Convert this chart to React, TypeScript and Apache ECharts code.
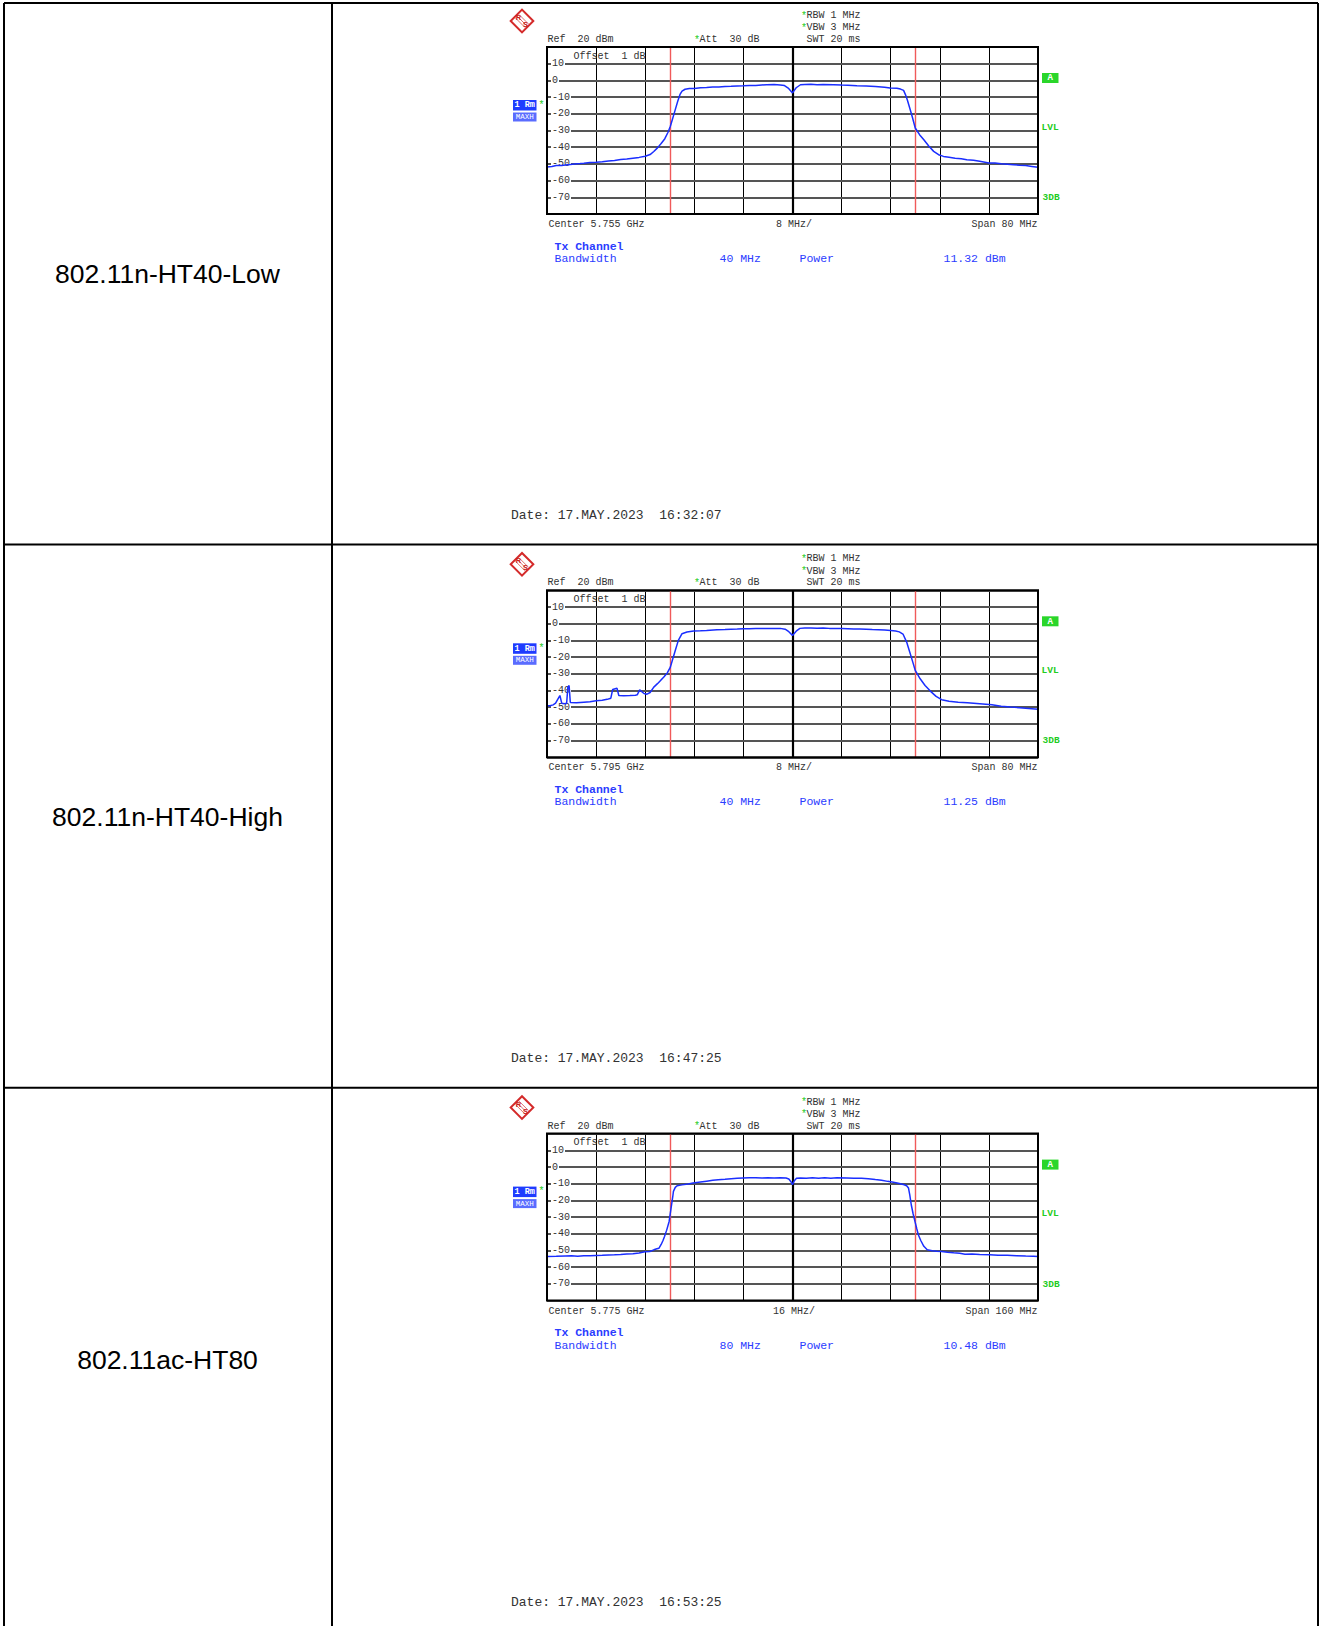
import React, { useEffect, useRef } from "react";
import * as echarts from "echarts";

// ---------- data ----------
const rowTitles = ["802.11n-HT40-Low", "802.11n-HT40-High", "802.11ac-HT80"];
const centerLabels = ["Center 5.755 GHz", "Center 5.795 GHz", "Center 5.775 GHz"];
const divLabels = ["8 MHz/", "8 MHz/", "16 MHz/"];
const spanLabels = ["Span 80 MHz", "Span 80 MHz", "Span 160 MHz"];
const bandwidthLabels = ["40 MHz", "40 MHz", "80 MHz"];
const powerLabels = ["11.32 dBm", "11.25 dBm", "10.48 dBm"];
const dateLabels = [
  "Date: 17.MAY.2023  16:32:07",
  "Date: 17.MAY.2023  16:47:25",
  "Date: 17.MAY.2023  16:53:25",
];
const halfSpans = [40, 40, 80]; // MHz offset from centre
const divSteps = [8, 8, 16]; // MHz per division
const channelEdges = [20, 20, 40]; // red channel limit lines (MHz offset)
const yMin = -80;
const yMax = 20;
const yStep = 10;
const hiddenYTicks = [20, -80];

// traces: [frequency offset MHz, level dBm]
const traceLow: number[][] = [
  [-40, -51.8], [-39.2, -51.6], [-38.5, -51.0], [-37.6, -50.9], [-37, -50.6], [-36.2, -50.3],
  [-35.5, -50.0], [-34.6, -49.8], [-34, -49.6], [-33, -49.2], [-32, -49.0], [-31, -48.7],
  [-30, -48.3], [-29, -47.9], [-28, -47.4], [-27, -47.1], [-26, -46.6], [-25, -46.1],
  [-24, -45.4], [-23.2, -44.4], [-22.6, -42.6], [-22, -40.4], [-21.4, -37.8], [-20.8, -34.9],
  [-20.3, -31.2], [-19.9, -27.5], [-19.5, -22.5], [-19.1, -17.5], [-18.7, -12.5], [-18.3, -8.2],
  [-18.0, -6.4], [-17.5, -5.3], [-16.8, -4.9], [-16, -4.8], [-15, -4.4], [-14, -4.3],
  [-13, -4.0], [-12, -3.9], [-11, -3.6], [-10, -3.5], [-9, -3.3], [-8, -3.2],
  [-7, -3.0], [-6, -3.0], [-5, -2.7], [-4.2, -2.6], [-3, -2.5], [-2, -2.7],
  [-1.3, -3.1], [-0.7, -4.6], [0, -7.5], [0.6, -4.4], [1.3, -2.6], [2, -2.4],
  [3, -2.3], [4, -2.6], [5, -2.5], [6.7, -2.6], [8, -2.8], [9, -2.9],
  [10.5, -3.2], [12, -3.3], [13.5, -3.6], [15, -4.1], [15.9, -4.6], [17, -4.7],
  [17.6, -5.2], [18.1, -6.0], [18.4, -8.5], [18.7, -11.6], [19.1, -16.5], [19.5, -21.6],
  [20, -28.5], [20.7, -32.5], [21.4, -35.5], [22.2, -39.3], [23, -42.5], [23.8, -44.5],
  [24.6, -45.5], [25.5, -46.0], [26.5, -46.6], [27.5, -46.9], [28.4, -47.5], [29.5, -47.8],
  [30.5, -48.4], [32, -49.4], [33, -49.5], [34, -49.9], [35, -50.2], [36, -50.5],
  [37, -50.8], [38, -51.0], [39, -51.5], [40, -52.0],
];

const traceHigh: number[][] = [
  [-40, -49.2], [-39.5, -49.1], [-39, -48.6], [-38.6, -47.6], [-38.3, -45.6], [-37.9, -43.0],
  [-37.6, -47.6], [-37.2, -47.9], [-36.8, -47.6], [-36.6, -38.0], [-36.4, -37.0], [-36.2, -47.2],
  [-35.2, -47.4], [-34, -47.0], [-33, -46.7], [-32, -46.2], [-31, -45.9], [-30.2, -45.3],
  [-29.6, -44.6], [-29.3, -39.4], [-28.6, -38.6], [-28.3, -43.0], [-27.5, -43.2], [-26.5, -43.0],
  [-25.6, -42.8], [-25.3, -42.6], [-24.9, -39.6], [-24.2, -41.8], [-23.7, -42.2], [-23.2, -41.2],
  [-22.6, -38.0], [-22, -35.9], [-21.5, -34.0], [-21, -32.0], [-20.4, -29.5], [-19.9, -26.0],
  [-19.5, -21.0], [-19.1, -16.0], [-18.6, -10.0], [-18.0, -6.0], [-17.2, -5.0], [-16.1, -4.4],
  [-15, -4.2], [-14, -4.0], [-12.3, -3.6], [-11, -3.5], [-10, -3.3], [-9, -3.2],
  [-8, -3.0], [-7, -3.0], [-6, -2.9], [-5, -2.8], [-4, -2.9], [-3, -2.8],
  [-2, -2.8], [-1.2, -3.3], [-0.6, -4.8], [0, -7.0], [0.6, -4.5], [1.2, -2.8],
  [2, -2.6], [3, -2.6], [4, -2.7], [5, -2.6], [6, -2.8], [7, -2.8],
  [8, -2.9], [9, -3.0], [10, -3.1], [11, -3.2], [12, -3.3], [13, -3.5],
  [14, -3.6], [15, -3.8], [16, -4.1], [16.8, -4.4], [17.4, -4.9], [18, -6.2],
  [18.6, -11.0], [19.1, -17.0], [19.6, -23.0], [20, -28.0], [20.8, -33.0], [21.6, -37.0],
  [22.5, -40.5], [23.4, -43.5], [24.3, -45.5], [25.5, -46.5], [27, -47.0], [28.5, -47.4],
  [30, -47.8], [31.5, -48.2], [32.5, -48.6], [34, -49.4], [35.5, -49.9], [37, -50.3],
  [38.5, -50.8], [40, -51.3],
];

const traceHT80: number[][] = [
  [-80, -53.6], [-77, -53.5], [-74, -53.3], [-72, -53.2], [-70, -53.4], [-68, -53.2],
  [-66, -53.1], [-64, -53.0], [-62, -52.9], [-60, -52.7], [-58, -52.6], [-56, -52.4],
  [-54, -52.1], [-52, -51.9], [-50, -51.5], [-48.1, -50.8], [-46.5, -50.6], [-45.2, -49.6],
  [-44.2, -49.0], [-43.5, -48.6], [-42.8, -46.4], [-42.2, -44.0], [-41.7, -41.6], [-41, -37.8],
  [-40.2, -32.6], [-39.8, -27.5], [-39.4, -22.6], [-39, -17.5], [-38.8, -14.6], [-38.2, -12.2],
  [-37.6, -11.2], [-36, -10.7], [-34, -10.2], [-32.4, -9.6], [-30, -9.0], [-28, -8.5],
  [-26, -8.0], [-24.2, -7.6], [-22, -7.3], [-20, -7.0], [-18, -6.8], [-16.1, -6.6],
  [-14, -6.5], [-12, -6.4], [-10, -6.6], [-8, -6.5], [-6, -6.6], [-4, -6.4],
  [-2.1, -6.6], [-1.2, -7.2], [-0.5, -8.8], [0, -10.6], [0.6, -8.2], [1.3, -6.8],
  [2.6, -6.6], [4.5, -6.8], [6.5, -6.5], [8.5, -6.7], [10.5, -6.5], [12.5, -6.8],
  [14.5, -6.5], [17.7, -6.6], [20, -6.7], [22.5, -6.8], [24.7, -7.0], [27, -7.5],
  [29, -7.9], [31, -8.6], [32.9, -9.2], [34.5, -9.7], [36.4, -10.6], [37.2, -11.2],
  [37.8, -12.6], [38.2, -16.5], [38.7, -22.6], [39.3, -28.0], [39.9, -32.6], [40.5, -37.0],
  [41, -40.6], [41.8, -44.0], [42.8, -47.5], [43.9, -49.6], [45.5, -50.1], [47, -50.4],
  [48.6, -50.6], [50.5, -51.0], [52.5, -51.4], [54.5, -51.7], [56.2, -52.2], [58.5, -52.1],
  [61, -52.4], [64.3, -52.6], [67, -52.8], [70, -52.9], [73, -53.1], [76, -53.3],
  [78.5, -53.4], [80, -53.6],
];

const traces = [traceLow, traceHigh, traceHT80];

// ---------- layout constants ----------
const ROW = 543.3;
const GRID_LEFT = 547;
const GRID_TOP = 47;
const GRID_W = 491;
const GRID_H = 167;

const MONO = '"Liberation Mono", "DejaVu Sans Mono", monospace';
const GREY_TXT = "#333333";
const BLUE_TXT = "#2b3cff";
const GREEN = "#22cc22";
const TRACE_BLUE = "#1a2eff";

function txt(x: number, y: number, text: string, font: string, fill: string, align = "left", extra: any = {}) {
  return {
    type: "text",
    x,
    y,
    z: 120,
    silent: true,
    style: {
      text,
      font,
      fill,
      align,
      verticalAlign: "middle",
      textAlign: align,
      textVerticalAlign: "middle",
      ...extra,
    },
  };
}

function line(x1: number, y1: number, x2: number, y2: number, stroke: string, lineWidth: number) {
  return {
    type: "line",
    z: 130,
    silent: true,
    shape: { x1, y1, x2, y2 },
    style: { stroke, lineWidth },
  };
}

export default function App() {
  const ref = useRef<HTMLDivElement>(null);

  useEffect(() => {
    if (!ref.current) return;
    const chart = echarts.init(ref.current, null, { renderer: "svg" });

    const grids: any[] = [];
    const xAxes: any[] = [];
    const yAxes: any[] = [];
    const series: any[] = [];
    const graphics: any[] = [];

    // table borders
    graphics.push(line(4, 3, 1318, 3, "#000", 2));
    graphics.push(line(4, 3, 4, 1626, "#000", 2));
    graphics.push(line(1318, 3, 1318, 1626, "#000", 2));
    graphics.push(line(332, 3, 332, 1626, "#000", 2));
    graphics.push(line(4, 544.4, 1318, 544.4, "#000", 2));
    graphics.push(line(4, 1087.7, 1318, 1087.7, "#000", 2));

    for (let k = 0; k < 3; k++) {
      const dy = k * ROW;
      const top = GRID_TOP + dy;

      grids.push({ left: GRID_LEFT, top, width: GRID_W, height: GRID_H, show: false, containLabel: false });

      xAxes.push({
        type: "value",
        gridIndex: k,
        min: -halfSpans[k],
        max: halfSpans[k],
        interval: divSteps[k],
        axisLine: { show: false },
        axisTick: { show: false },
        axisLabel: { show: false },
        splitLine: { show: true, lineStyle: { color: "#000", width: 1 } },
      });

      yAxes.push({
        type: "value",
        gridIndex: k,
        min: yMin,
        max: yMax,
        interval: yStep,
        axisLine: { show: false },
        axisTick: { show: false },
        splitLine: { show: true, lineStyle: { color: "#555", width: 1.8 } },
        axisLabel: {
          inside: true,
          margin: 4,
          fontFamily: MONO,
          fontSize: 10,
          color: GREY_TXT,
          backgroundColor: "#fff",
          padding: [0, 1, 0, 1],
          formatter: (v: number) => (hiddenYTicks.includes(v) ? "" : String(v)),
        },
        z: 3,
      });

      series.push({
        type: "line",
        xAxisIndex: k,
        yAxisIndex: k,
        data: traces[k],
        symbol: "none",
        showSymbol: false,
        clip: true,
        z: 5,
        lineStyle: { color: TRACE_BLUE, width: 1.5 },
        markLine: {
          silent: true,
          symbol: ["none", "none"],
          label: { show: false },
          animation: false,
          data: [
            { xAxis: 0, lineStyle: { color: "#000", width: 2.2, type: "solid" } },
            { xAxis: -channelEdges[k], lineStyle: { color: "#f05a5a", width: 1.4, type: "solid" } },
            { xAxis: channelEdges[k], lineStyle: { color: "#f05a5a", width: 1.4, type: "solid" } },
          ],
        },
      });

      // frame
      graphics.push({
        type: "rect",
        z: 110,
        silent: true,
        shape: { x: GRID_LEFT, y: top, width: GRID_W, height: GRID_H },
        style: { fill: "none", stroke: "#000", lineWidth: 2 },
      });

      // row title
      graphics.push(
        txt(167.5, 273.7 + dy, rowTitles[k], '26.5px "Liberation Sans", Arial, sans-serif', "#000", "center")
      );

      // R&S logo
      graphics.push({
        type: "group",
        x: 522,
        y: 21 + dy,
        z: 120,
        silent: true,
        children: [
          {
            type: "rect",
            rotation: Math.PI / 4,
            shape: { x: -8, y: -8, width: 16, height: 16 },
            style: { fill: "#fff", stroke: "#d42a2a", lineWidth: 2 },
          },
          { type: "line", shape: { x1: -6.5, y1: -3, x2: 3, y2: 6.5 }, style: { stroke: "#e06060", lineWidth: 0.9 } },
          { type: "line", shape: { x1: -3, y1: -6.5, x2: 6.5, y2: 3 }, style: { stroke: "#e06060", lineWidth: 0.9 } },
          { type: "line", shape: { x1: -5, y1: -5, x2: 5, y2: 5 }, style: { stroke: "#e06060", lineWidth: 0.9 } },
          {
            type: "text",
            x: -3.5,
            y: -3.5,
            style: { text: "R", font: "bold 7.5px Arial", fill: "#c81e1e", align: "center", verticalAlign: "middle", textAlign: "center", textVerticalAlign: "middle" },
          },
          {
            type: "text",
            x: 3.5,
            y: 3.5,
            style: { text: "S", font: "bold 7.5px Arial", fill: "#c81e1e", align: "center", verticalAlign: "middle", textAlign: "center", textVerticalAlign: "middle" },
          },
        ],
      });

      // header texts
      const f10 = `10px ${MONO}`;
      graphics.push(txt(801, 16 + dy, "*", f10, GREEN));
      graphics.push(txt(806.5, 15.6 + dy, "RBW 1 MHz", f10, GREY_TXT));
      graphics.push(txt(801, 28.2 + dy, "*", f10, GREEN));
      graphics.push(txt(806.5, 27.8 + dy, "VBW 3 MHz", f10, GREY_TXT));
      graphics.push(txt(806.5, 39.6 + dy, "SWT 20 ms", f10, GREY_TXT));
      graphics.push(txt(547.5, 39.6 + dy, "Ref  20 dBm", f10, GREY_TXT));
      graphics.push(txt(694, 40 + dy, "*", f10, GREEN));
      graphics.push(txt(699.5, 39.6 + dy, "Att  30 dB", f10, GREY_TXT));
      graphics.push(txt(573.5, 56 + dy, "Offset  1 dB", f10, GREY_TXT));

      // trace indicator
      graphics.push({
        type: "rect",
        z: 120,
        silent: true,
        shape: { x: 513, y: 100 + dy, width: 23.5, height: 10.5 },
        style: { fill: "#1f3cff" },
      });
      graphics.push(txt(524.7, 105.3 + dy, "1 Rm", `bold 8.5px ${MONO}`, "#fff", "center"));
      graphics.push({
        type: "rect",
        z: 120,
        silent: true,
        shape: { x: 513, y: 112.5 + dy, width: 23.5, height: 9 },
        style: { fill: "#5a6cff" },
      });
      graphics.push(txt(524.7, 117.1 + dy, "MAXH", `7.5px ${MONO}`, "#fff", "center"));
      graphics.push(txt(538.5, 105 + dy, "*", f10, GREEN));

      // right side markers
      graphics.push({
        type: "rect",
        z: 120,
        silent: true,
        shape: { x: 1042, y: 73 + dy, width: 16.5, height: 10 },
        style: { fill: "#2ad62a" },
      });
      graphics.push(txt(1050.2, 78.2 + dy, "A", `bold 9px ${MONO}`, "#fff", "center"));
      graphics.push(txt(1041.5, 127 + dy, "LVL", `bold 9.5px ${MONO}`, GREEN));
      graphics.push(txt(1042.5, 197.5 + dy, "3DB", `bold 9.5px ${MONO}`, GREEN));

      // footer texts
      graphics.push(txt(548.5, 224.5 + dy, centerLabels[k], f10, GREY_TXT));
      graphics.push(txt(794, 224.5 + dy, divLabels[k], f10, GREY_TXT, "center"));
      graphics.push(txt(1037.5, 224.5 + dy, spanLabels[k], f10, GREY_TXT, "right"));

      const f11 = `11.5px ${MONO}`;
      graphics.push(txt(554.5, 246 + dy, "Tx Channel", `bold 11.5px ${MONO}`, BLUE_TXT));
      graphics.push(txt(554.5, 258.5 + dy, "Bandwidth", f11, BLUE_TXT));
      graphics.push(txt(719.5, 258.5 + dy, bandwidthLabels[k], f11, BLUE_TXT));
      graphics.push(txt(799.5, 258.5 + dy, "Power", f11, BLUE_TXT));
      graphics.push(txt(943.5, 258.5 + dy, powerLabels[k], f11, BLUE_TXT));

      graphics.push(txt(511, 515.5 + dy, dateLabels[k], `13px ${MONO}`, "#333"));
    }

    chart.setOption({
      animation: false,
      backgroundColor: "#fff",
      grid: grids,
      xAxis: xAxes,
      yAxis: yAxes,
      series,
      graphic: { elements: graphics },
    });

    return () => chart.dispose();
  }, []);

  return (
    <div
      ref={ref}
      style={{ position: "absolute", left: 0, top: 0, width: 1320, height: 1626, background: "#fff" }}
    />
  );
}
